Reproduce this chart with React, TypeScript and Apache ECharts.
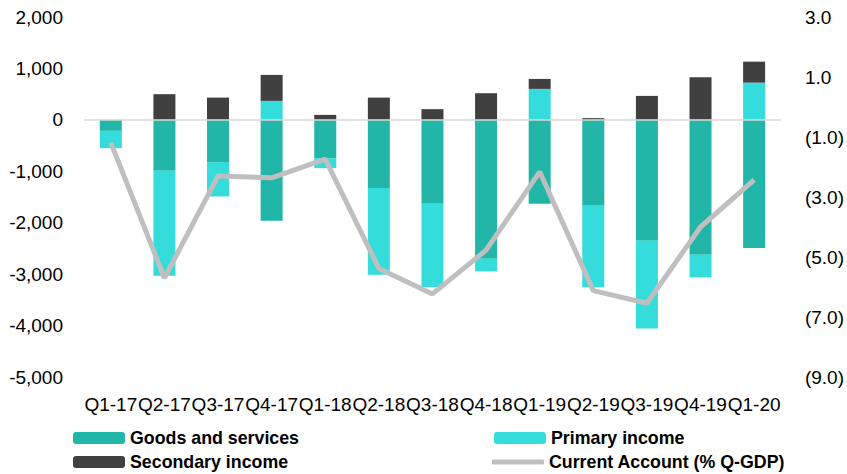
import React, { useEffect, useRef } from "react";
import * as echarts from "echarts";

const quarters = [
  "Q1-17", "Q2-17", "Q3-17", "Q4-17", "Q1-18", "Q2-18", "Q3-18",
  "Q4-18", "Q1-19", "Q2-19", "Q3-19", "Q4-19", "Q1-20",
];
const goodsAndServices = [-214, -990, -821, -1961, -744, -1326, -1631, -2699, -1631, -1670, -2350, -2621, -2491];
const primaryIncome = [-336, -2039, -668, 369, -194, -1684, -1618, -247, 602, -1586, -1708, -441, 724];
const secondaryIncome = [0, 499, 433, 505, 97, 433, 208, 518, 194, 33, 466, 829, 408];
const currentAccountPct = [-1.19, -5.7, -2.3, -2.36, -1.74, -5.38, -6.23, -4.77, -2.16, -6.12, -6.54, -4.0, -2.43];

const FONT = "'Liberation Sans', Arial, sans-serif";
const COLORS = {
  goods: "#21B6A8",
  primary: "#34DDDC",
  secondary: "#404040",
  account: "#BFBFBF",
  zero: "#D9D9D9",
};

const fmtThousands = (v: number) => {
  const s = Math.abs(v).toString().replace(/\B(?=(\d{3})+(?!\d))/g, ",");
  return v < 0 ? "-" + s : s;
};
const fmtPct = (v: number) =>
  v < 0 ? `(${Math.abs(v).toFixed(1)})` : v.toFixed(1);

const legendText = {
  fontFamily: FONT,
  fontWeight: "bold" as const,
  fontSize: 17.8,
  lineHeight: 20,
  color: "#000",
};

// one legend box per entry so the 2x2 grid lines up exactly
const legendEntry = (name: string, left: number, top: number, extra: object = {}) => ({
  left,
  top,
  padding: 0,
  itemWidth: 52,
  itemHeight: 12,
  itemGap: 0,
  textStyle: legendText,
  data: [name],
  ...extra,
});

export default function App() {
  const ref = useRef<HTMLDivElement>(null);

  useEffect(() => {
    if (!ref.current) return;
    const chart = echarts.init(ref.current, undefined, { renderer: "svg" });
    chart.setOption({
      animation: false,
      backgroundColor: "#fff",
      grid: { left: 84, right: 65, top: 17, bottom: 97, containLabel: false },
      legend: [
        legendEntry("Goods and services", 73, 428),
        legendEntry("Secondary income", 73, 452),
        legendEntry("Primary income", 494, 428),
        legendEntry("Current Account (% Q-GDP)", 492, 452, {
          itemHeight: 5,
          data: [{ name: "Current Account (% Q-GDP)", icon: "roundRect" }],
        }),
      ],
      xAxis: {
        type: "category",
        data: quarters,
        axisLine: { show: false, onZero: false },
        axisTick: { show: false },
        axisLabel: {
          interval: 0,
          margin: 18,
          fontFamily: FONT,
          fontSize: 19,
          color: "#000",
        },
      },
      yAxis: [
        {
          type: "value",
          min: -5000,
          max: 2000,
          interval: 1000,
          splitLine: { show: false },
          axisLine: { show: false },
          axisTick: { show: false },
          axisLabel: {
            margin: 21,
            fontFamily: FONT,
            fontSize: 19,
            color: "#000",
            formatter: fmtThousands,
          },
        },
        {
          type: "value",
          min: -9,
          max: 3,
          interval: 2,
          splitLine: { show: false },
          axisLine: { show: false },
          axisTick: { show: false },
          axisLabel: {
            margin: 24,
            fontFamily: FONT,
            fontSize: 19,
            color: "#000",
            formatter: fmtPct,
          },
        },
      ],
      series: [
        {
          name: "Goods and services",
          type: "bar",
          stack: "ca",
          barWidth: 22,
          itemStyle: { color: COLORS.goods },
          data: goodsAndServices,
          markLine: {
            silent: true,
            symbol: "none",
            label: { show: false },
            lineStyle: { color: COLORS.zero, width: 1.5, type: "solid" },
            data: [{ yAxis: 0 }],
          },
        },
        {
          name: "Primary income",
          type: "bar",
          stack: "ca",
          barWidth: 22,
          itemStyle: { color: COLORS.primary },
          data: primaryIncome,
        },
        {
          name: "Secondary income",
          type: "bar",
          stack: "ca",
          barWidth: 22,
          itemStyle: { color: COLORS.secondary },
          data: secondaryIncome,
        },
        {
          name: "Current Account (% Q-GDP)",
          type: "line",
          yAxisIndex: 1,
          symbol: "none",
          z: 5,
          itemStyle: { color: COLORS.account },
          lineStyle: { color: COLORS.account, width: 5 },
          data: currentAccountPct,
        },
      ],
    });
    return () => chart.dispose();
  }, []);

  return (
    <div
      ref={ref}
      style={{ position: "fixed", left: 0, top: 0, width: 847, height: 474 }}
    />
  );
}
